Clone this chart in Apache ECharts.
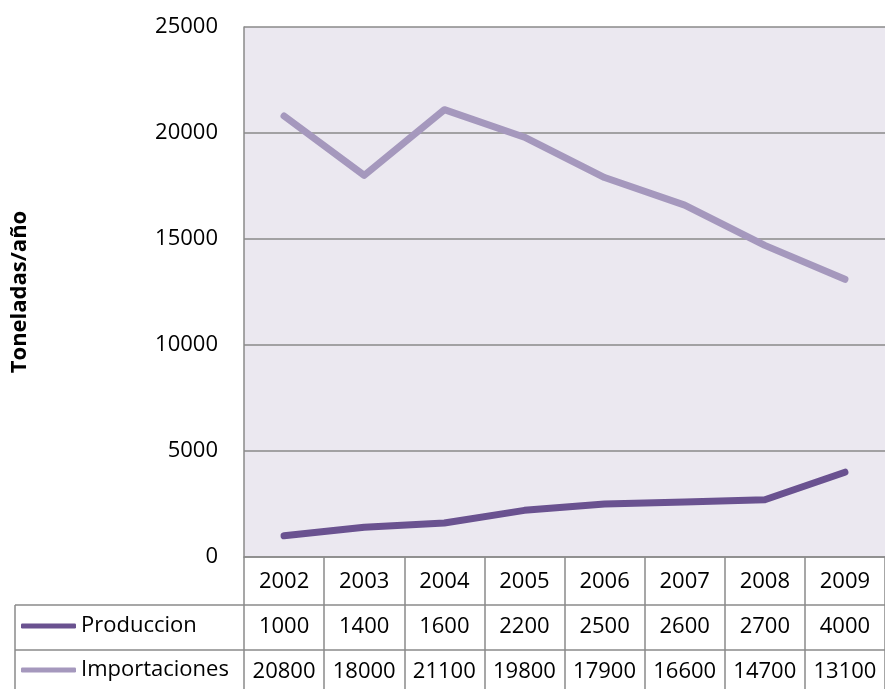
<!DOCTYPE html>
<html>
<head>
<meta charset="utf-8">
<script src="https://cdn.jsdelivr.net/npm/echarts@6/dist/echarts.min.js"></script>
<style>
  html, body { margin: 0; padding: 0; background: #ffffff; }
  #chart { width: 885px; height: 689px; }
</style>
</head>
<body>
<div id="chart"></div>
<script>
// Annual tonnage: domestic production vs. imports
const years = ['2002', '2003', '2004', '2005', '2006', '2007', '2008', '2009'];
const produccion = [1000, 1400, 1600, 2200, 2500, 2600, 2700, 4000];
const importaciones = [20800, 18000, 21100, 19800, 17900, 16600, 14700, 13100];
const seriesNames = ['Produccion', 'Importaciones'];
const yMin = 0, yMax = 25000, yStep = 5000;

const FONT = '"Open Sans"';
const FS = 22;
const TEXT = '#000000';
const RULE = '#8a8a8a';
const COLORS = ['#6a5290', '#a598bd'];

// Rows of the data table are extra category axes stacked under the plot
function tableRow(values, offset) {
  return {
    type: 'category',
    position: 'bottom',
    offset: offset,
    data: values.map(String),
    axisLine: { show: false },
    axisTick: { show: false },
    axisLabel: {
      margin: 25, verticalAlign: 'middle', interval: 0,
      fontFamily: FONT, fontSize: FS, color: TEXT
    }
  };
}

// One legend block per table row, so each key sits in its own row
function legendRow(name, top) {
  return {
    data: [name],
    orient: 'vertical',
    left: 21, top: top,
    padding: 0,
    icon: 'roundRect',
    itemWidth: 55, itemHeight: 5,
    selectedMode: false,
    textStyle: { fontFamily: FONT, fontSize: FS, color: TEXT, lineHeight: 24 }
  };
}

const chart = echarts.init(document.getElementById('chart'));
const option = {
  animation: false,
  backgroundColor: '#ffffff',
  color: COLORS,
  grid: {
    left: 244, top: 27, right: -11, bottom: 132,
    show: true, backgroundColor: '#ebe8f0', borderWidth: 0
  },
  legend: [legendRow(seriesNames[0], 614), legendRow(seriesNames[1], 658)],
  xAxis: [
    {
      type: 'category',
      position: 'bottom',
      data: years,
      boundaryGap: true,
      axisLine: { show: true, lineStyle: { color: RULE, width: 1.5 } },
      axisTick: { show: true, interval: 0, length: 140, lineStyle: { color: RULE, width: 1.5 } },
      axisLabel: {
        margin: 25, verticalAlign: 'middle', interval: 0,
        fontFamily: FONT, fontSize: FS, color: TEXT
      }
    },
    tableRow(produccion, 45),
    tableRow(importaciones, 90)
  ],
  yAxis: {
    type: 'value',
    min: yMin, max: yMax, interval: yStep,
    name: 'Toneladas/año',
    nameLocation: 'middle',
    nameRotate: 90,
    nameGap: 213,
    nameTextStyle: { fontFamily: FONT, fontSize: 22, fontWeight: 'bold', color: TEXT },
    axisLine: { show: true, lineStyle: { color: RULE, width: 1.5 } },
    axisTick: { show: false },
    axisLabel: {
      margin: 26, fontFamily: FONT, fontSize: FS, color: TEXT,
      formatter: function (v) { return String(v); }
    },
    splitLine: { show: true, lineStyle: { color: RULE, width: 1.5 } }
  },
  series: [
    {
      name: seriesNames[0], type: 'line', xAxisIndex: 0,
      data: produccion, symbol: 'none',
      lineStyle: { width: 7, cap: 'round', join: 'round', color: COLORS[0] }
    },
    {
      name: seriesNames[1], type: 'line', xAxisIndex: 0,
      data: importaciones, symbol: 'none',
      lineStyle: { width: 7, cap: 'round', join: 'round', color: COLORS[1] }
    }
  ]
};
chart.setOption(option);

// Table rules: row separators and the left border of the legend column
function drawTableRules() {
  const axisY = chart.convertToPixel({ yAxisIndex: 0 }, yMin);
  const w = chart.getWidth(), h = chart.getHeight();
  const rowTops = [axisY + 48, axisY + 93];
  const left = 15;
  const elements = rowTops.map(function (y) {
    return { type: 'line', silent: true, z: 5,
      shape: { x1: left, y1: y, x2: w + 20, y2: y },
      style: { stroke: RULE, lineWidth: 1.5 } };
  });
  elements.push({ type: 'line', silent: true, z: 5,
    shape: { x1: left, y1: rowTops[0], x2: left, y2: h + 5 },
    style: { stroke: RULE, lineWidth: 1.5 } });
  chart.setOption({ graphic: elements });
}
drawTableRules();
</script>
</body>
</html>
